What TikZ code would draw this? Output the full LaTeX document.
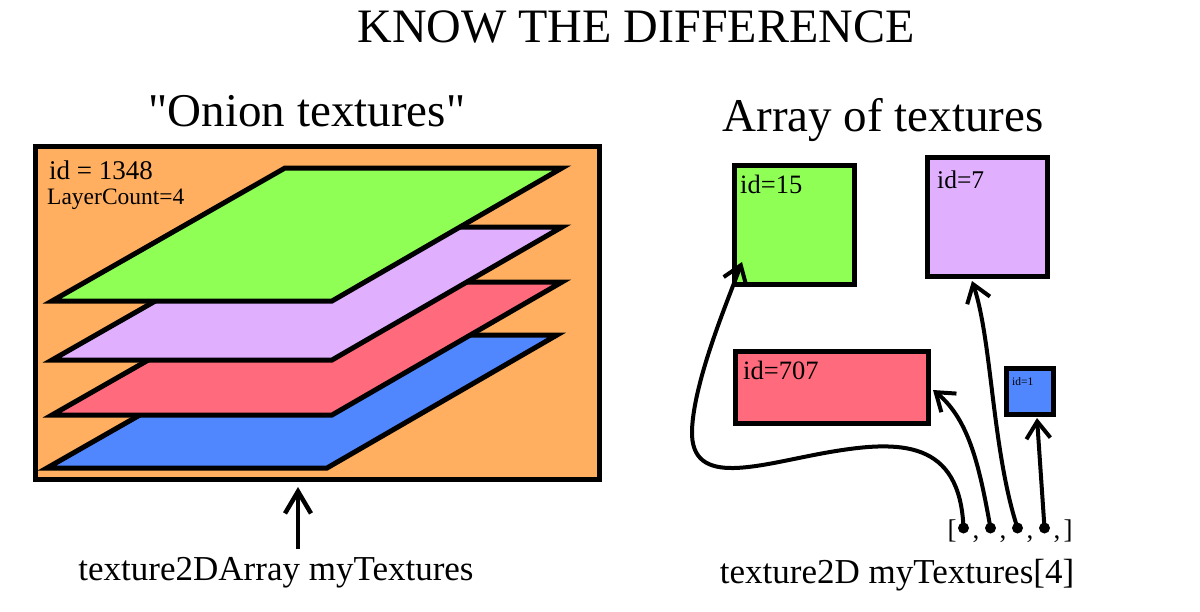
\documentclass[tikz,border=0pt]{standalone}
\usepackage{fontspec}
\setmainfont{Liberation Serif}
\newfontfamily\plainquotes{Liberation Serif}[Ligatures=TeXOff]
\usetikzlibrary{arrows.meta}
\definecolor{orangebg}{HTML}{FFAF5F}
\definecolor{texgreen}{HTML}{8FFF55}
\definecolor{texpurple}{HTML}{E0B0FF}
\definecolor{texred}{HTML}{FF6B7D}
\definecolor{texblue}{HTML}{5087FF}
\begin{document}
\begin{tikzpicture}[x=1pt,y=-1pt,
  tbox/.style={draw=black,line width=5pt,inner sep=0pt,outer sep=0pt,anchor=north west},
  layer/.style={draw=black,line width=5pt,line join=miter},
  arr/.style={line width=4pt,-{Straight Barb[length=17pt,width=24pt]}},
  bigarr/.style={line width=4.5pt,-{Straight Barb[length=22pt,width=26pt]}},
  dotn/.style={circle,fill=black,inner sep=0pt,minimum size=11pt},
  lbl/.style={inner sep=0pt,anchor=base west},
  big/.style={inner sep=0pt,anchor=base,font=\fontsize{47}{50}\selectfont},
  captext/.style={inner sep=0pt,anchor=base,font=\fontsize{35}{38}\selectfont},
  brk/.style={inner sep=0pt,anchor=base,font=\fontsize{27}{30}\selectfont}]
\useasboundingbox (0,0) rectangle (1200,611);
% titles
\node[inner sep=0pt,anchor=base,font=\fontsize{48}{52}\selectfont] (title) at (636,42) {KNOW THE DIFFERENCE};
\node[big] (onion) at (307,126) {\plainquotes "Onion textures"};
\node[big] (arrayt) at (883,131) {Array of textures};
% left: texture array
\node[tbox,fill=orangebg,minimum width=564pt,minimum height=333pt] (o) at (35,146) {};
\node[lbl,font=\fontsize{27}{30}\selectfont] (oid) at (49,179) {id = 1348};
\node[lbl,font=\fontsize{23.5}{26}\selectfont] (olc) at (47,204) {LayerCount=4};
\filldraw[layer,fill=texblue]   (47,468) -- (327,468) -- (557,335) -- (280,335) -- cycle;
\filldraw[layer,fill=texred]    (52,415) -- (332,415) -- (562,282) -- (285,282) -- cycle;
\filldraw[layer,fill=texpurple] (52,360) -- (332,360) -- (562,227) -- (285,227) -- cycle;
\filldraw[layer,fill=texgreen]  (52,301) -- (332,301) -- (562,168) -- (285,168) -- cycle;
\node[captext] (leftcap) at (276,580) {texture2DArray myTextures};
\coordinate (la) at (298,549);
\coordinate (lb) at (298,487);
\draw[bigarr] (la) -- (lb);
% right: array of textures
\node[tbox,fill=texgreen,minimum width=120pt,minimum height=119pt] (g) at (734.5,165.5) {};
\node[tbox,fill=texpurple,minimum width=120pt,minimum height=119pt] (p) at (927.5,157.5) {};
\node[tbox,fill=texred,minimum width=193pt,minimum height=72pt] (r) at (735.5,351) {};
\node[tbox,fill=texblue,minimum width=47pt,minimum height=46pt] (b) at (1006,368) {};
\node[lbl,font=\fontsize{26.5}{29}\selectfont] (gid) at (740,193) {id=15};
\node[lbl,font=\fontsize{25.5}{28}\selectfont] (pid) at (937,188) {id=7};
\node[lbl,font=\fontsize{26.5}{29}\selectfont] (rid) at (743,379) {id=707};
\node[lbl,font=\fontsize{11.5}{13}\selectfont] (bid) at (1012,385) {id=1};
% array brackets
\node[brk] (lbr) at (952,538) {[};
\node[brk] (rbr) at (1068,538) {]};
\node[dotn] (d1) at (963.5,528) {};
\node[dotn] (d2) at (990.5,528) {};
\node[dotn] (d3) at (1017.5,528) {};
\node[dotn] (d4) at (1044.5,528) {};
\node[brk] (c1) at (976,538) {,};
\node[brk] (c2) at (1003,538) {,};
\node[brk] (c3) at (1030,538) {,};
\node[brk] (c4) at (1057,538) {,};
\node[captext] (rightcap) at (897,583) {texture2D myTextures[4]};
% connectors
\coordinate (gt) at (742,262);
\coordinate (pt) at (972,281);
\coordinate (rt) at (933,390);
\coordinate (bt) at (1037,418);
\draw[arr] (d1.center) .. controls (960,440) and (900,440) .. (830,452)
  .. controls (760,464) and (690,490) .. (692,430)
  .. controls (694,380) and (728,300) .. (gt);
\draw[arr] (d2.center) .. controls (980,470) and (970,420) .. (rt);
\draw[arr] (d3.center) .. controls (992,450) and (992,340) .. (pt);
\draw[arr] (d4.center) -- (bt);
\end{tikzpicture}
\end{document}
